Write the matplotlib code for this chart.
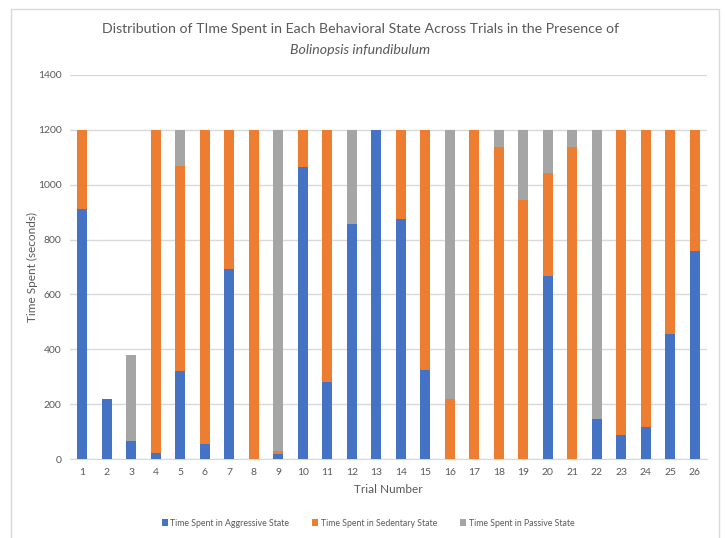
import numpy as np
import matplotlib.pyplot as plt
from matplotlib.patches import Rectangle

# time budget per trial (seconds), 1200 s observation window
trials = [str(i) for i in range(1, 27)]
aggressive = [910, 220, 67, 24, 320, 55, 692, 0, 18, 1064, 282, 856, 1200,
              876, 324, 0, 0, 0, 0, 668, 0, 145, 89, 119, 457, 757]
sedentary = [290, 0, 0, 1176, 749, 1145, 508, 1200, 11, 136, 918, 0, 0,
             324, 876, 219, 1200, 1136, 943, 375, 1135, 0, 1111, 1081, 743, 443]
passive = [0, 0, 313, 0, 131, 0, 0, 0, 1171, 0, 0, 344, 0,
           0, 0, 981, 0, 64, 257, 157, 65, 1055, 0, 0, 0, 0]

series_names = ["Time Spent in Aggressive State",
                "Time Spent in Sedentary State",
                "Time Spent in Passive State"]
colors = ["#4472C4", "#ED7D31", "#A5A5A5"]

plt.rcParams['font.family'] = ['Lato', 'DejaVu Sans']
text_grey = "#595959"

W, H = 725, 538
fig = plt.figure(figsize=(W / 100, H / 100), dpi=100)
# light chart border (bottom edge runs off the figure)
fig.patches.append(Rectangle((11 / W, -0.05), 708 / W, 1.05 - 9 / H,
                             transform=fig.transFigure, fill=False,
                             edgecolor="#D9D9D9", linewidth=1.0))

ax = fig.add_axes([70 / W, 78.7 / H, 637 / W, 384.6 / H])

x = np.arange(len(trials))
width = 0.4
bottom = np.zeros(len(trials))
for vals, name, c in zip([aggressive, sedentary, passive], series_names, colors):
    ax.bar(x, vals, width, bottom=bottom, color=c, label=name, zorder=3)
    bottom += np.array(vals)

ax.set_xlim(-0.5, len(trials) - 0.5)
ax.set_ylim(0, 1400)
ax.set_yticks(range(0, 1401, 200))
ax.set_xticks(x)
ax.set_xticklabels(trials)
ax.grid(axis="y", color="#D9D9D9", linewidth=1.0, zorder=0)
for side in ["top", "right", "left"]:
    ax.spines[side].set_visible(False)
ax.spines["bottom"].set_color("#D9D9D9")
ax.tick_params(axis="both", length=0, labelsize=7.5, colors=text_grey, pad=6)

ax.set_xlabel("Trial Number", fontsize=8.5, color=text_grey, labelpad=5)
ax.set_ylabel("Time Spent (seconds)", fontsize=8.5, color=text_grey, labelpad=0)

fig.text(0.497, 1 - 29 / H, "Distribution of TIme Spent in Each Behavioral State "
         "Across Trials in the Presence of",
         ha="center", va="center", fontsize=10.2, color=text_grey)
fig.text(0.497, 1 - 50 / H, "Bolinopsis infundibulum", ha="center", va="center",
         fontsize=10.2, color=text_grey, style="italic")

fig.legend(loc="center", bbox_to_anchor=(368 / W, 1 - 523 / H),
           ncol=3, frameon=False, fontsize=6.3, handlelength=0.7,
           handleheight=0.7, handletextpad=0.3, columnspacing=2.6,
           labelcolor=text_grey)

fig.savefig("out.png", dpi=100)
